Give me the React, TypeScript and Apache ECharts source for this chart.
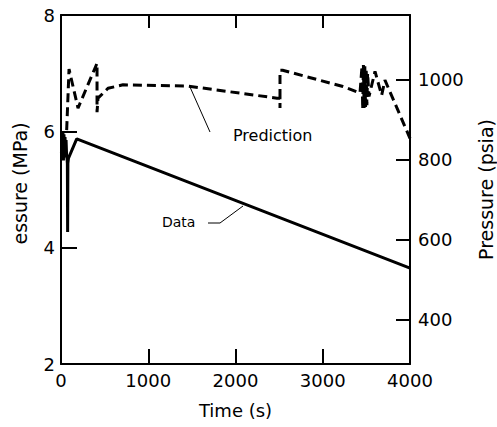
import React, { useEffect, useRef } from "react";
import * as echarts from "echarts";

const PSI_PER_MPA = 145.0377;
const FONT = "DejaVu Sans";

// Measured data (time in s, pressure in MPa)
const dataTime = [5, 10, 16, 22, 28, 34, 40, 46, 52, 58, 64, 70, 73, 76, 79, 86, 180, 4000];
const dataPressure = [5.62, 6.0, 5.55, 5.98, 5.5, 5.95, 5.55, 5.9, 5.58, 5.85, 5.6, 5.52, 5.45, 4.27, 5.45, 5.54, 5.87, 3.65];

// Predicted pressure (time in s, pressure in MPa)
const predTime = [65, 80, 92, 195, 413, 413, 424, 539, 711, 1444, 2476, 2510, 2510, 2510, 2540, 3232, 3427, 3450, 3458, 3466, 3474, 3482, 3490, 3498, 3506, 3514, 3530, 3599, 3675, 3713, 4000];
const predPressure = [6.02, 6.6, 7.07, 6.4, 7.17, 6.33, 6.57, 6.74, 6.8, 6.78, 6.57, 6.57, 6.4, 7.05, 7.05, 6.77, 6.66, 7.12, 6.38, 7.14, 6.4, 7.12, 6.42, 7.08, 6.45, 7.0, 6.6, 7.03, 6.62, 6.88, 5.88];

const leftRange = [2, 8];
const timeRange = [0, 4000];

const axisLine = { show: true, onZero: false, lineStyle: { color: "#000", width: 2 } };
const labelStyle = { color: "#000", fontSize: 18, fontFamily: FONT };

export default function App() {
  const ref = useRef<HTMLDivElement>(null);
  useEffect(() => {
    if (!ref.current) return;
    const chart = echarts.init(ref.current, null, { renderer: "svg" });
    const data = dataTime.map((t, i) => [t, dataPressure[i]]);
    const pred = predTime.map((t, i) => [t, predPressure[i]]);
    chart.setOption({
      animation: false,
      backgroundColor: "#fff",
      grid: { left: 61, right: 87, top: 15, bottom: 63, outerBoundsMode: "none" },
      xAxis: [
        {
          type: "value",
          position: "bottom",
          min: timeRange[0],
          max: timeRange[1],
          interval: 1000,
          axisLine,
          axisTick: { inside: true, length: 15, lineStyle: { color: "#000", width: 2 } },
          axisLabel: { ...labelStyle, margin: 7, formatter: (v: number) => String(v) },
          splitLine: { show: false },
          name: "Time (s)",
          nameLocation: "middle",
          nameGap: 37,
          nameTextStyle: { color: "#000", fontSize: 18, fontFamily: FONT },
        },
        {
          type: "value",
          position: "top",
          min: timeRange[0],
          max: timeRange[1],
          interval: 1000,
          axisLine,
          axisTick: { inside: true, length: 13, lineStyle: { color: "#000", width: 2 } },
          axisLabel: { show: false },
          splitLine: { show: false },
        },
      ],
      yAxis: [
        {
          type: "value",
          position: "left",
          min: leftRange[0],
          max: leftRange[1],
          interval: 2,
          axisLine,
          axisTick: { inside: true, length: 16, lineStyle: { color: "#000", width: 2 } },
          axisLabel: { ...labelStyle, margin: 6 },
          splitLine: { show: false },
          name: "essure (MPa)",
          nameLocation: "middle",
          nameGap: 32,
          nameRotate: 90,
          nameTextStyle: { color: "#000", fontSize: 19, fontFamily: FONT, padding: [0, 0, 0, 12] },
        },
        {
          type: "value",
          position: "right",
          min: leftRange[0] * PSI_PER_MPA,
          max: leftRange[1] * PSI_PER_MPA,
          axisLine,
          axisTick: { inside: true, length: 14, lineStyle: { color: "#000", width: 2 } },
          axisLabel: {
            ...labelStyle,
            margin: 8,
            formatter: (v: number) => (Math.abs(v % 200) < 1e-6 ? String(v) : ""),
          },
          splitLine: { show: false },
          name: "Pressure (psia)",
          nameLocation: "middle",
          nameGap: 66,
          nameRotate: 90,
          nameTextStyle: { color: "#000", fontSize: 19, fontFamily: FONT },
        },
      ],
      series: [
        {
          name: "Data",
          type: "line",
          xAxisIndex: 0,
          yAxisIndex: 0,
          data,
          symbol: "none",
          lineStyle: { color: "#000", width: 3 },
        },
        {
          name: "Prediction",
          type: "line",
          xAxisIndex: 0,
          yAxisIndex: 0,
          data: pred,
          symbol: "none",
          lineStyle: { color: "#000", width: 3, type: [9, 5] },
        },
      ],
      graphic: [
        {
          type: "text",
          left: 233,
          top: 127,
          style: { text: "Prediction", fill: "#000", fontSize: 16, fontFamily: FONT },
        },
        {
          type: "line",
          shape: { x1: 190, y1: 87, x2: 210, y2: 132 },
          style: { stroke: "#000", lineWidth: 1 },
        },
        {
          type: "text",
          left: 162,
          top: 215,
          style: { text: "Data", fill: "#000", fontSize: 14, fontFamily: FONT },
        },
        {
          type: "polyline",
          shape: { points: [[208, 223], [220, 223], [243, 206]] },
          style: { stroke: "#000", lineWidth: 1, fill: "none" },
        },
      ],
    });
    return () => chart.dispose();
  }, []);
  return (
    <div
      ref={ref}
      style={{ position: "fixed", left: 0, top: 0, width: 497, height: 427, background: "#fff" }}
    />
  );
}
